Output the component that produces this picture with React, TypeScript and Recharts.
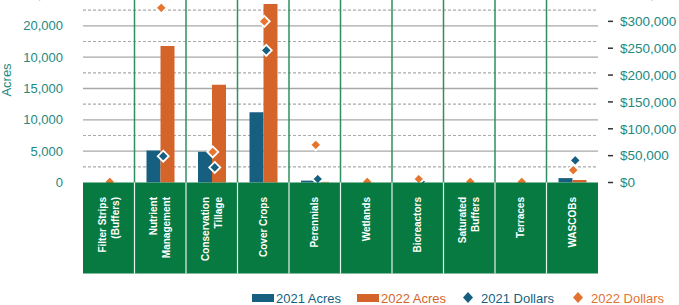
import React from 'react';
import { ComposedChart, Bar, Scatter, XAxis, YAxis, CartesianGrid } from 'recharts';

const categories = [
  'Filter Strips (Buffers)',
  'Nutrient Management',
  'Conservation Tillage',
  'Cover Crops',
  'Perennials',
  'Wetlands',
  'Bioreactors',
  'Saturated Buffers',
  'Terraces',
  'WASCOBs',
];
const categoryLines = [
  ['Filter Strips', '(Buffers)'],
  ['Nutrient', 'Management'],
  ['Conservation', 'Tillage'],
  ['Cover Crops'],
  ['Perennials'],
  ['Wetlands'],
  ['Bioreactors'],
  ['Saturated', 'Buffers'],
  ['Terraces'],
  ['WASCOBs'],
];
const acres2021 = [0, 5100, 4900, 11200, 300, 0, 0, 0, 0, 700];
const acres2022 = [0, 21800, 15600, 28500, 100, 0, 0, 0, 0, 400];
const dollars2021 = [0, 49000, 28000, 246000, 6500, 0, 1500, 0, 0, 41000];
const dollars2022 = [1000, 325000, 57000, 300000, 70000, 1000, 6500, 1000, 1000, 23000];

const leftTicks = [0, 5000, 10000, 15000, 20000, 25000, 30000];
const leftTickLabels = ['0', '5,000', '10,000', '15,000', '10,000', '20,000', '25,000'];
const rightTicks = [0, 50000, 100000, 150000, 200000, 250000, 300000, 350000];
const rightTickLabels = ['$0', '$50,000', '$100,000', '$150,000', '$200,000', '$250,000', '$300,000', '$350,000'];
const gridSolid = [5000, 10000, 15000, 20000, 25000];
const gridDashed = [2500, 7500, 12500, 17500, 22500, 27500];
const legendItems = [
  { label: '2021 Acres', kind: 'rect', color: '#175f80' },
  { label: '2022 Acres', kind: 'rect', color: '#d5642b' },
  { label: '2021 Dollars', kind: 'diamond', color: '#175f80' },
  { label: '2022 Dollars', kind: 'diamond', color: '#e2722f' },
];

const LEFT_MAX = 30000;
const RIGHT_MAX = 350000;
const BLUE = '#175f80';
const ORANGE = '#d5642b';
const ORANGE_PT = '#e5752f';
const GREEN = '#077a42';
const SEP_GREEN = '#2f8f5e';
const TEAL = '#22897f';
const FONT = '"Liberation Sans", Arial, Helvetica, sans-serif';

const data = categories.map((name, i) => ({
  name,
  a21: acres2021[i],
  a22: acres2022[i],
  d21: dollars2021[i],
  d22: dollars2022[i],
}));

const CategoryTick = (props: any) => {
  const { x, y, index, width, visibleTicksCount } = props;
  const w = width && visibleTicksCount ? width / visibleTicksCount : 51.5;
  const lines = categoryLines[index] || [props.payload?.value];
  const left = x - w / 2;
  const n = lines.length;
  return (
    <g>
      <rect x={left} y={y} width={w} height={91} fill={GREEN} />
      {index > 0 && <line x1={left} x2={left} y1={y} y2={y + 91} stroke="#e8f2ec" strokeWidth={1.2} />}
      {lines.map((ln: string, i: number) => {
        const tx = x + (i - (n - 1) / 2) * 13;
        const ty = y + 14.5;
        return (
          <text
            key={i}
            x={tx}
            y={ty}
            dy="0.35em"
            transform={`rotate(-90 ${tx} ${ty})`}
            textAnchor="end"
            fill="#ffffff"
            fontSize={10}
            fontWeight="bold"
            fontFamily={FONT}
          >
            {ln}
          </text>
        );
      })}
    </g>
  );
};

const RightTick = (props: any) => {
  const { x, y, payload } = props;
  const i = rightTicks.indexOf(payload.value);
  return (
    <g>
      <line x1={x + 10} x2={x + 15} y1={y} y2={y} stroke="#333" strokeWidth={1.5} />
      <text x={x + 22} y={y} dy="0.35em" textAnchor="start" fill={TEAL} fontSize={13.5} fontFamily={FONT}>
        {rightTickLabels[i]}
      </text>
    </g>
  );
};

const makeDiamond = (color: string, dx: number) => (props: any) => {
  const { cx, cy } = props;
  if (cx == null || cy == null) return <g />;
  const r = 5.5;
  const x = cx + dx;
  return (
    <polygon
      points={`${x},${cy - r} ${x + r},${cy} ${x},${cy + r} ${x - r},${cy}`}
      fill={color}
      stroke="#ffffff"
      strokeWidth={1.8}
    />
  );
};

const hGen = (vals: number[]) => (args: any) => {
  const { yAxis, offset } = args || {};
  if (yAxis && typeof yAxis.scale === 'function') {
    const out = vals.map((v) => yAxis.scale(v));
    if (out.every((o) => typeof o === 'number' && !isNaN(o))) return out;
  }
  return vals.map((v) => offset.top + offset.height * (1 - v / LEFT_MAX));
};

const vGen = (args: any) => {
  const { offset } = args || {};
  const n = categories.length;
  const res: number[] = [];
  for (let i = 1; i < n; i++) res.push(offset.left + (offset.width * i) / n);
  return res;
};

const AcresLabel = () => (
  <text x={11} y={100} transform="rotate(-90 11 100)" textAnchor="middle" fill={TEAL} fontSize={13} fontFamily={FONT}>
    Acres
  </text>
);

export default function App() {
  return (
    <div style={{ position: 'absolute', left: 0, top: 0, width: 679, height: 305, overflow: 'hidden', background: '#fff' }}>
      <div style={{ position: 'absolute', left: 0, top: -20 }}>
        <ComposedChart
          width={679}
          height={325}
          data={data}
          margin={{ top: 14.5, right: 0, bottom: 32.5, left: 0 }}
          barGap={0}
        >
          <CartesianGrid
            yAxisId="left"
            vertical={false}
            stroke="#a8a8a8"
            strokeWidth={1.4}
            horizontalCoordinatesGenerator={hGen(gridSolid)}
          />
          <CartesianGrid
            yAxisId="left"
            vertical={false}
            stroke="#aaaaaa"
            strokeWidth={1.1}
            strokeDasharray="3 2"
            horizontalCoordinatesGenerator={hGen(gridDashed)}
          />
          <CartesianGrid
            yAxisId="left"
            horizontal={false}
            stroke={SEP_GREEN}
            strokeWidth={1.5}
            verticalCoordinatesGenerator={vGen}
          />
          <YAxis
            yAxisId="left"
            orientation="left"
            width={83}
            domain={[0, LEFT_MAX]}
            ticks={leftTicks}
            interval={0}
            axisLine={false}
            tickLine={false}
            tickSize={0}
            tickMargin={20}
            tick={{ fill: TEAL, fontSize: 13, fontFamily: FONT }}
            tickFormatter={(v: number) => leftTickLabels[leftTicks.indexOf(v)]}
            label={<AcresLabel />}
          />
          <YAxis
            yAxisId="right"
            orientation="right"
            width={81}
            domain={[0, RIGHT_MAX]}
            ticks={rightTicks}
            interval={0}
            axisLine={false}
            tickLine={false}
            tickSize={0}
            tickMargin={0}
            tick={<RightTick />}
          />
          <Bar yAxisId="left" dataKey="a21" fill={BLUE} barSize={14} isAnimationActive={false} />
          <Bar yAxisId="left" dataKey="a22" fill={ORANGE} barSize={14} isAnimationActive={false} />
          <XAxis
            dataKey="name"
            type="category"
            height={90}
            interval={0}
            axisLine={false}
            tickLine={false}
            tickSize={0}
            tickMargin={0}
            tick={<CategoryTick />}
          />
          <Scatter yAxisId="right" dataKey="d21" fill={BLUE} shape={makeDiamond(BLUE, 3)} isAnimationActive={false} />
          <Scatter yAxisId="right" dataKey="d22" fill={ORANGE_PT} shape={makeDiamond(ORANGE_PT, 1)} isAnimationActive={false} />
        </ComposedChart>
      </div>
      <div style={{ position: 'absolute', left: 0, top: 290, width: 679, height: 16, fontFamily: FONT, fontSize: 13 }}>
        {legendItems.map((it, i) => {
          const lefts = [252, 357, 462, 572];
          return (
            <div key={i} style={{ position: 'absolute', left: lefts[i], top: 0, display: 'flex', alignItems: 'center', height: 16, whiteSpace: 'nowrap' }}>
              {it.kind === 'rect' ? (
                <span style={{ display: 'inline-block', width: 22, height: 8, background: it.color, marginRight: 2 }} />
              ) : (
                <svg width={16} height={16} style={{ marginRight: 3 }}>
                  <polygon points="6,2 11,7.5 6,13 1,7.5" fill={it.color} />
                </svg>
              )}
              <span style={{ color: it.color }}>{it.label}</span>
            </div>
          );
        })}
      </div>
    </div>
  );
}
